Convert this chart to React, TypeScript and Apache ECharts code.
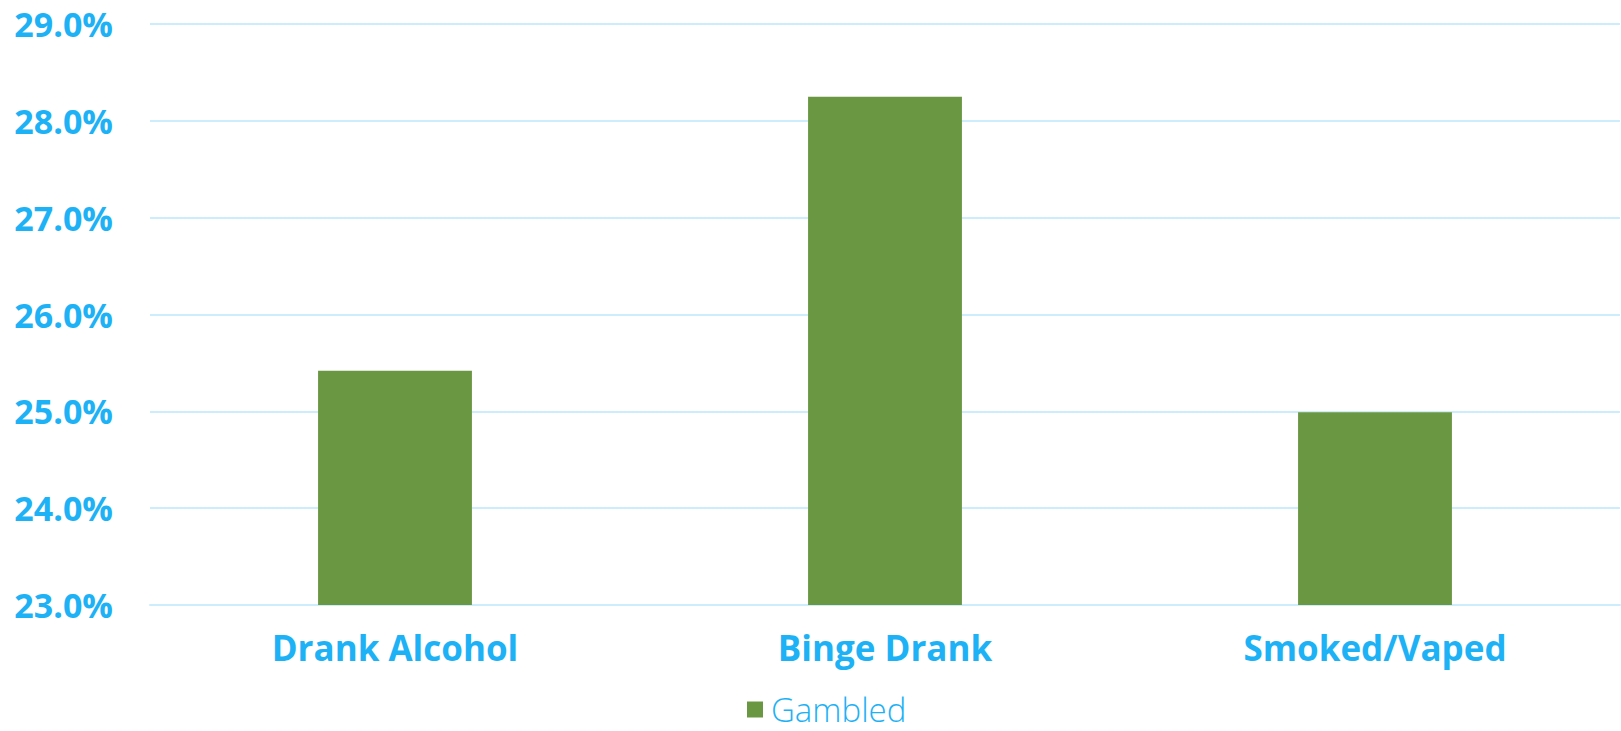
import React, { useEffect, useRef } from "react";
import * as echarts from "echarts";

const categories = ["Drank Alcohol", "Binge Drank", "Smoked/Vaped"];
const seriesName = "Gambled";
const gambledValues = [25.42, 28.25, 24.99];
const yMin = 23;
const yMax = 29;
const yInterval = 1;

const BLUE = "#1DB1F6";
const GREEN = "#6A9842";
const FONT = "'Open Sans', Lato, sans-serif";

export default function App() {
  const ref = useRef<HTMLDivElement>(null);
  useEffect(() => {
    if (!ref.current) return;
    const chart = echarts.init(ref.current, null, { renderer: "svg" });
    chart.setOption({
      animation: false,
      backgroundColor: "#ffffff",
      grid: { left: 150, right: 1, top: 24, bottom: 126, containLabel: false },
      legend: {
        data: [seriesName],
        bottom: 0,
        left: 742,
        icon: "rect",
        itemWidth: 16,
        itemHeight: 16,
        itemGap: 8,
        textStyle: { color: BLUE, fontFamily: FONT, fontSize: 33, fontWeight: 300, padding: [0, 0, 0, 3] },
      },
      xAxis: {
        type: "category",
        data: categories,
        axisLine: { show: true, lineStyle: { color: "#CDEDFC", width: 2 } },
        axisTick: { show: false },
        axisLabel: {
          color: BLUE,
          fontFamily: FONT,
          fontWeight: "bold",
          fontSize: 35,
          margin: 25,
        },
      },
      yAxis: {
        type: "value",
        min: yMin,
        max: yMax,
        interval: yInterval,
        axisLine: { show: false },
        axisTick: { show: false },
        splitLine: { lineStyle: { color: "#CDEDFC", width: 2 } },
        axisLabel: {
          color: BLUE,
          fontFamily: FONT,
          fontWeight: "bold",
          fontSize: 34,
          margin: 37,
          formatter: (v: number) => v.toFixed(1) + "%",
        },
      },
      series: [
        {
          name: seriesName,
          type: "bar",
          data: gambledValues,
          barWidth: "31.4%",
          itemStyle: { color: GREEN },
        },
      ],
    });
    return () => chart.dispose();
  }, []);
  return (
    <div
      ref={ref}
      style={{ position: "fixed", left: 0, top: 0, width: 1621, height: 731 }}
    />
  );
}
